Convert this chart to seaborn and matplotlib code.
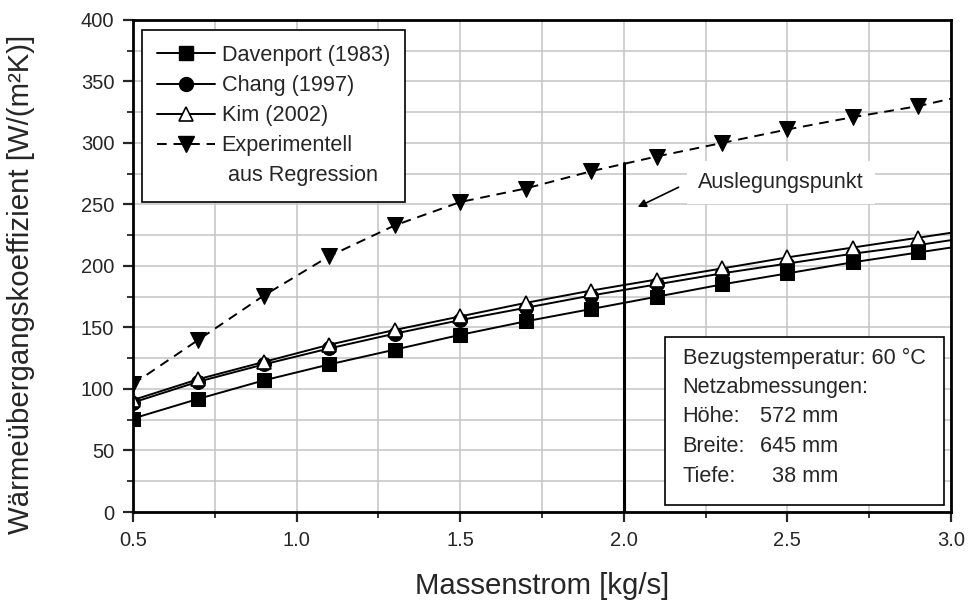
import numpy as np
import pandas as pd
import matplotlib
matplotlib.use("Agg")
import matplotlib.pyplot as plt
import seaborn as sns
from matplotlib.patches import Rectangle
from matplotlib.lines import Line2D
from matplotlib.ticker import MultipleLocator

# ---- data ----
x_vals = [0.5, 0.7, 0.9, 1.1, 1.3, 1.5, 1.7, 1.9, 2.1, 2.3, 2.5, 2.7, 2.9, 3.0]
davenport = [76, 92, 107, 120, 132, 144, 155, 165, 175, 185, 194, 203, 211, 215]
chang = [89, 106, 120, 133, 145, 156, 166, 176, 185, 194, 202, 210, 217, 221]
kim = [91, 108, 122, 136, 148, 159, 170, 180, 189, 198, 207, 215, 223, 227]
experimentell = [104, 140, 176, 208, 233, 252, 263, 277, 289, 300, 311, 321, 330, 336]
series_names = ["Davenport (1983)", "Chang (1997)", "Kim (2002)", "Experimentell"]
design_x = 2.0
design_y = 284
info_lines = ["Bezugstemperatur: 60 °C", "Netzabmessungen:"]
info_dims = [("Höhe:", "572 mm"), ("Breite:", "645 mm"), ("Tiefe:", "38 mm")]

sns.set_style("white")
plt.rcParams["font.family"] = ["Liberation Sans", "DejaVu Sans"]

fig = plt.figure(figsize=(9.7, 6.02), dpi=100)
ax = fig.add_axes([0.1371, 0.1495, 0.8433, 0.8173])

n_mark = list(range(len(x_vals) - 1))
styles = [
    dict(marker="s", mfc="black", mec="black", ms=10, ls="-"),
    dict(marker="o", mfc="black", mec="black", ms=10, ls="-"),
    dict(marker="^", mfc="white", mec="black", ms=10.5, mew=1.2, ls="-"),
    dict(marker="v", mfc="black", mec="black", ms=11, ls=(0, (5, 3.5))),
]
for name, vals, st in zip(series_names, [davenport, chang, kim, experimentell], styles):
    df = pd.DataFrame({"x": x_vals, "y": vals})
    sns.lineplot(data=df, x="x", y="y", ax=ax, color="black", lw=1.4,
                 markevery=n_mark, label=None, legend=False, **st)

# design point vertical line
ax.plot([design_x, design_x], [0, design_y], color="black", lw=2.2, zorder=3)

ax.set_xlim(0.5, 3.0)
ax.set_ylim(0, 400)
ax.xaxis.set_major_locator(MultipleLocator(0.5))
ax.xaxis.set_minor_locator(MultipleLocator(0.25))
ax.yaxis.set_major_locator(MultipleLocator(50))
ax.yaxis.set_minor_locator(MultipleLocator(25))
ax.set_xticklabels([f"{v:.1f}" for v in ax.get_xticks()])
ax.grid(True, which="both", color="#c4c4c4", lw=1.1, zorder=0)
ax.set_axisbelow(True)
for s in ax.spines.values():
    s.set_linewidth(2.0)
    s.set_color("black")
    s.set_visible(True)
ax.tick_params(which="major", direction="out", length=7.5, width=1.6, labelsize=14.5, pad=6,
               bottom=True, left=True)
ax.tick_params(which="minor", direction="out", length=4.5, width=1.3, bottom=True, left=True)

ax.set_xlabel("Massenstrom [kg/s]", fontsize=21.2, labelpad=16)
ax.set_ylabel("Wärmeübergangskoeffizient [W/(m²K)]", fontsize=21.2)
ax.yaxis.set_label_coords(-0.12, 0.463)

# legend
handles = [
    Line2D([], [], color="black", lw=1.4, **styles[0]),
    Line2D([], [], color="black", lw=1.4, **styles[1]),
    Line2D([], [], color="black", lw=1.4, **styles[2]),
    Line2D([], [], color="black", lw=1.4, **styles[3]),
    Line2D([], [], color="none"),
]
labels = series_names + [" aus Regression"]
leg = ax.legend(handles, labels, loc="upper left", bbox_to_anchor=(0.011, 0.98),
                borderaxespad=0, fontsize=15.6, frameon=True, fancybox=False,
                edgecolor="black", framealpha=1, handlelength=2.65, handletextpad=0.32,
                labelspacing=0.42, borderpad=0.7)
leg.get_frame().set_linewidth(1.2)

# annotation
ax.text(2.48, 268, "Auslegungspunkt", fontsize=15.6, ha="center", va="center",
        bbox=dict(facecolor="white", edgecolor="none", pad=8), zorder=5)
ax.annotate("", xy=(2.035, 247), xytext=(2.175, 265),
            arrowprops=dict(arrowstyle="-|>", color="black", lw=1.2, mutation_scale=12),
            zorder=6)

# info box
ax.add_patch(Rectangle((2.126, 5.7), 0.854, 136.3, facecolor="white", edgecolor="black",
                       lw=1.2, zorder=5))
ys = [125, 101.5, 77.5, 53, 29]
ax.text(2.18, ys[0], info_lines[0], fontsize=15.6, va="center", ha="left", zorder=6)
ax.text(2.18, ys[1], info_lines[1], fontsize=15.6, va="center", ha="left", zorder=6)
for (lab, val), yy in zip(info_dims, ys[2:]):
    ax.text(2.18, yy, lab, fontsize=15.6, va="center", ha="left", zorder=6)
    ax.text(2.655, yy, val, fontsize=15.6, va="center", ha="right", zorder=6)

fig.savefig("out.png", dpi=100)
